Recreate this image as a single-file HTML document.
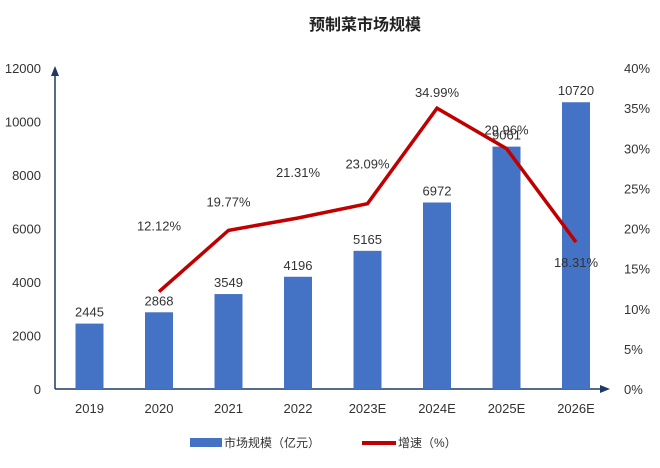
<!DOCTYPE html>
<html><head><meta charset="utf-8"><style>
body{margin:0;background:#fff;}
svg text{font-family:"Liberation Sans","Noto Sans CJK SC",sans-serif;}
</style></head><body>
<svg width="660" height="463" viewBox="0 0 660 463">
<text x="365" y="30" text-anchor="middle" font-size="16" font-weight="bold" fill="#222">预制菜市场规模</text>
<g id="axes"></g><g id="bars"></g><g id="line"></g><g id="labels"></g>
<g>
<rect x="190" y="438" width="32" height="9" fill="#4472C4"/>
<text x="224" y="447" font-size="12" fill="#333">市场规模（亿元）</text>
<rect x="362" y="441" width="34" height="4" fill="#C00000"/>
<text x="398" y="447" font-size="12" fill="#333">增速（%）</text>
</g>
</svg>
<script>
const categories=["2019","2020","2021","2022","2023E","2024E","2025E","2026E"];
const marketSize=[2445,2868,3549,4196,5165,6972,9061,10720];
const growth=[null,12.12,19.77,21.31,23.09,34.99,29.96,18.31];
const leftTicks=[0,2000,4000,6000,8000,10000,12000];
const rightTicks=[0,5,10,15,20,25,30,35,40];
const NS="http://www.w3.org/2000/svg";
const x0=55,y0=389,yTop=68,step=69.5,first=89.5;
const xPos=i=>first+i*step;
const yL=v=>y0-(v/12000)*(y0-yTop);
const yR=v=>y0-(v/40)*(y0-yTop);
function mk(tag,attrs,parent,text){const e=document.createElementNS(NS,tag);for(const k in attrs)e.setAttribute(k,attrs[k]);if(text!=null)e.textContent=text;document.getElementById(parent).appendChild(e);return e;}
let e=mk('line',{x1:x0,y1:y0,x2:x0,y2:yTop+6,stroke:'#1F3864','stroke-width':1.5},'axes');


e=mk('polygon',{points:`${x0-4},${yTop+8} ${x0+4},${yTop+8} ${x0},${yTop-2}`,fill:'#1F3864'},'axes');


e=mk('line',{x1:x0,y1:y0,x2:602,y2:y0,stroke:'#1F3864','stroke-width':1.5},'axes');


e=mk('polygon',{points:`600,${y0-4} 600,${y0+4} 610,${y0}`,fill:'#1F3864'},'axes');


leftTicks.forEach(t=>{const el=mk('text',{x:41,y:yL(t)+5,'text-anchor':'end','font-size':13,fill:'#333'},'axes',String(t));

});
rightTicks.forEach(t=>{const el=mk('text',{x:624,y:yR(t)+5,'font-size':13,fill:'#333'},'axes',t+'%');

});
categories.forEach((c,i)=>{const el=mk('text',{x:xPos(i),y:413,'text-anchor':'middle','font-size':13,fill:'#333'},'axes',c);

});
marketSize.forEach((v,i)=>{const b=mk('rect',{x:xPos(i)-14,y:yL(v),width:28,height:y0-yL(v),fill:'#4472C4'},'bars');


const t=mk('text',{x:xPos(i),y:yL(v)-7,'text-anchor':'middle','font-size':13,fill:'#333'},'labels',String(v));

});
const pts=[];growth.forEach((g,i)=>{if(g!=null)pts.push(xPos(i)+','+yR(g));});
e=mk('polyline',{points:pts.join(' '),fill:'none',stroke:'#C00000','stroke-width':3.5,'stroke-linejoin':'miter'},'line');


function labelDy(i){return i===1?-61:i===2?-24:i===3?-41:i===4?-35:i===5?-11:i===6?-9:i===7?25:-30;}
function labelDx(i){return i===6?0:i===7?0:0;}
growth.forEach((g,i)=>{if(g==null)return;
const t=mk('text',{x:xPos(i)+labelDx(i),y:yR(g)+labelDy(i)-(i===6?5:0),'text-anchor':'middle','font-size':13,fill:'#333'},'labels',g.toFixed(2)+'%');

});
</script>
</body></html>
